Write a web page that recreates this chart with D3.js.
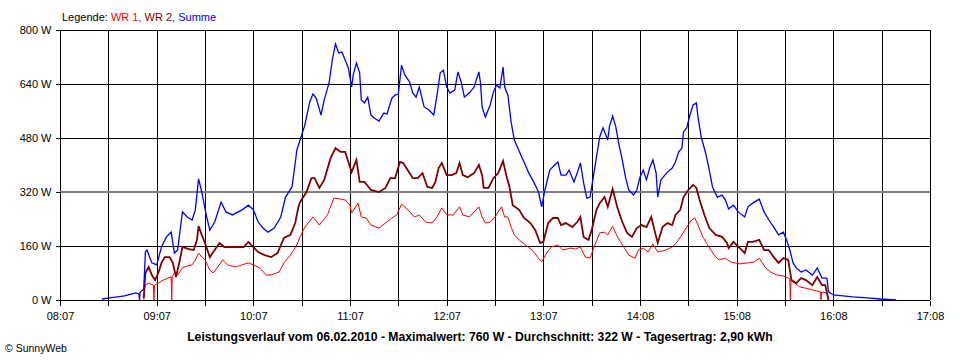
<!DOCTYPE html>
<html>
<head>
<meta charset="utf-8">
<script src="https://cdn.jsdelivr.net/npm/d3@7"></script>
<style>
  html, body { margin: 0; padding: 0; background: #fff; }
  svg { display: block; }
  text { font-family: "Liberation Sans", "DejaVu Sans", sans-serif; }
</style>
</head>
<body>
<svg id="chart" width="960" height="360"></svg>
<script>
// ---------------- DATA ----------------
const xTickLabels = ["08:07","09:07","10:07","11:07","12:07","13:07","14:08","15:08","16:08","17:08"];
const yTicks = [0, 160, 320, 480, 640, 800];
const average = 322;
const legendItems = [["WR 1,", "#ff0000"], ["WR 2,", "#800000"], ["Summe", "#0000ff"]];
const titleText = "Leistungsverlauf vom 06.02.2010 - Maximalwert: 760 W - Durchschnitt: 322 W - Tagesertrag: 2,90 kWh";

// WR 1 (red)  [time, W]
const wr1 = [
 ["08:59",0],["08:59:20",30],["09:00",44],["09:02",50],["09:05",44],["09:05:20",0],["09:05:40",44],
 ["09:08",50],["09:11",59],["09:14",65],["09:16",68],["09:16:20",0],["09:16:40",70],["09:18",80],["09:20",74],
 ["09:23",95],["09:26",101],["09:29",104],["09:31",119],["09:33",139],["09:35",127],["09:37",119],
 ["09:40",89],["09:42",80],["09:45",98],["09:48",119],["09:51",104],["09:56",98],["10:00",104],
 ["10:04",110],["10:07",104],["10:11",95],["10:15",74],["10:18",74],["10:23",83],["10:26",110],
 ["10:30",133],["10:34",163],["10:36",187],["10:39",216],["10:44",246],["10:48",222],["10:53",252],
 ["10:57",302],["11:01",299],["11:04",296],["11:07",281],["11:08",258],["11:12",287],["11:14",246],
 ["11:17",243],["11:20",222],["11:25",213],["11:29",228],["11:33",243],["11:36",252],["11:39",284],
 ["11:43",267],["11:47",246],["11:50",252],["11:54",231],["11:58",228],["12:01",246],["12:04",273],
 ["12:07",252],["12:11",252],["12:15",276],["12:17",252],["12:21",246],["12:27",276],["12:29",246],
 ["12:31",228],["12:34",231],["12:37",246],["12:41",276],["12:43",246],["12:45",246],["12:47",216],
 ["12:49",193],["12:52",178],["12:56",163],["13:00",148],["13:04",124],["13:06",113],["13:09",139],
 ["13:12",157],["13:16",163],["13:19",148],["13:24",154],["13:27",151],["13:30",157],["13:33",127],
 ["13:36",124],["13:39",163],["13:42",199],["13:45",201],["13:47",193],["13:50",219],["13:53",187],
 ["13:57",157],["14:00",133],["14:04",124],["14:06",148],["14:09",154],["14:12",142],["14:15",166],
 ["14:18",142],["14:23",148],["14:27",157],["14:30",172],["14:33",193],["14:36",216],["14:39",237],
 ["14:41",243],["14:43",222],["14:46",187],["14:49",163],["14:53",133],["14:56",119],["15:00",124],
 ["15:03",113],["15:09",107],["15:14",110],["15:18",113],["15:21",124],["15:25",95],["15:28",83],
 ["15:32",74],["15:36",71],["15:39",65],["15:40",62],["15:40:20",0],["15:40:40",60],["15:43",50],
 ["15:46",39],["15:49",36],["15:54",30],["15:59",24],["15:59:20",0],["15:59:40",24],["16:03",21],["16:04",0]
];

// WR 2 (dark red)  [time, W]
const wr2 = [
 ["08:59",6],["09:00",80],["09:02",98],["09:04",74],["09:06",59],["09:08",80],["09:10",110],
 ["09:12",127],["09:15",127],["09:17",110],["09:19",68],["09:21",110],["09:23",157],["09:27",151],
 ["09:30",148],["09:32",178],["09:33",219],["09:35",193],["09:37",169],["09:40",127],["09:43",148],
 ["09:46",169],["09:49",157],["09:53",157],["09:57",157],["10:01",157],["10:04",172],["10:07",157],
 ["10:10",142],["10:14",133],["10:18",127],["10:22",139],["10:26",184],["10:30",193],["10:33",228],
 ["10:35",276],["10:36",290],["10:40",320],["10:43",361],["10:45",361],["10:48",332],["10:51",356],
 ["10:55",421],["10:58",450],["11:01",439],["11:04",439],["11:07",394],["11:08",379],["11:11",415],
 ["11:13",350],["11:16",350],["11:20",326],["11:25",320],["11:29",332],["11:32",361],["11:35",361],
 ["11:38",409],["11:40",406],["11:42",391],["11:46",361],["11:49",361],["11:52",376],["11:55",335],
 ["11:58",332],["12:00",350],["12:02",391],["12:04",406],["12:07",370],["12:10",370],["12:13",376],
 ["12:15",406],["12:17",370],["12:20",364],["12:24",376],["12:27",400],["12:29",370],["12:30",332],
 ["12:33",332],["12:36",361],["12:39",376],["12:42",412],["12:44",370],["12:46",335],["12:48",281],
 ["12:52",267],["12:55",243],["12:59",228],["13:02",207],["13:05",169],["13:07",172],["13:10",228],
 ["13:13",243],["13:16",243],["13:18",222],["13:21",228],["13:25",216],["13:28",231],["13:30",246],
 ["13:32",187],["13:35",178],["13:37",207],["13:40",267],["13:42",287],["13:45",305],["13:47",276],
 ["13:50",329],["13:53",273],["13:56",231],["13:59",199],["14:02",187],["14:05",213],["14:08",222],
 ["14:11",216],["14:14",246],["14:16",207],["14:18",169],["14:21",216],["14:24",228],["14:27",222],
 ["14:29",252],["14:32",267],["14:34",305],["14:37",326],["14:40",341],["14:42",332],["14:44",296],
 ["14:47",252],["14:50",213],["14:54",193],["14:58",187],["15:01",169],["15:02",154],["15:05",172],
 ["15:09",154],["15:12",139],["15:14",172],["15:17",172],["15:21",178],["15:24",148],["15:27",148],
 ["15:30",127],["15:33",110],["15:36",124],["15:39",119],["15:41",59],["15:44",50],["15:47",65],
 ["15:50",59],["15:54",44],["15:57",68],["16:00",44],["16:02",44],["16:04",0]
];

// Summe (blue)  [time, W]
const summe = [
 ["08:33",3],["08:38",6],["08:47",12],["08:54",21],["08:56",18],["08:56:20",0],["08:56:40",22],["08:57",24],["08:59",33],
 ["09:00",142],["09:01",148],["09:04",110],["09:07",104],["09:10",157],["09:13",187],["09:16",201],
 ["09:18",139],["09:20",148],["09:23",261],["09:26",246],["09:29",237],["09:31",267],["09:33",359],
 ["09:35",320],["09:38",246],["09:40",207],["09:43",231],["09:47",290],["09:50",261],["09:54",252],
 ["10:00",267],["10:04",281],["10:07",267],["10:10",231],["10:13",213],["10:16",201],["10:20",213],
 ["10:24",246],["10:27",305],["10:31",335],["10:33",406],["10:34",444],["10:36",474],["10:39",519],
 ["10:42",587],["10:44",610],["10:46",598],["10:49",548],["10:51",593],["10:54",643],["10:56",711],
 ["10:58",759],["11:00",732],["11:02",735],["11:04",711],["11:06",687],["11:08",631],["11:09",667],
 ["11:11",702],["11:13",673],["11:14",593],["11:16",584],["11:18",601],["11:20",548],["11:22",539],
 ["11:25",530],["11:28",554],["11:30",551],["11:33",598],["11:35",607],["11:37",610],["11:39",696],
 ["11:41",667],["11:44",646],["11:46",613],["11:48",601],["11:50",631],["11:53",572],["11:56",563],
 ["11:59",548],["12:01",607],["12:03",673],["12:05",681],["12:07",631],["12:09",613],["12:12",622],
 ["12:14",676],["12:16",646],["12:18",601],["12:21",613],["12:24",631],["12:27",676],["12:28",643],
 ["12:29",572],["12:31",542],["12:34",578],["12:36",616],["12:38",637],["12:40",628],["12:42",690],
 ["12:43",631],["12:45",607],["12:47",527],["12:49",474],["12:52",441],["12:55",409],["12:58",376],
 ["13:01",350],["13:04",320],["13:06",276],["13:08",326],["13:11",385],["13:14",400],["13:16",409],
 ["13:18",370],["13:21",370],["13:23",385],["13:26",350],["13:28",376],["13:30",406],["13:32",347],
 ["13:34",302],["13:36",305],["13:38",364],["13:40",424],["13:42",483],["13:44",510],["13:47",474],
 ["13:48",513],["13:50",545],["13:52",513],["13:54",459],["13:56",415],["13:58",364],["14:00",326],
 ["14:03",311],["14:05",326],["14:07",364],["14:09",385],["14:11",356],["14:13",391],["14:15",415],
 ["14:17",376],["14:18",305],["14:20",356],["14:24",379],["14:27",391],["14:29",409],["14:31",439],
 ["14:33",450],["14:34",498],["14:36",510],["14:38",548],["14:40",578],["14:42",584],["14:43",542],
 ["14:45",483],["14:48",430],["14:50",385],["14:52",335],["14:55",305],["14:58",311],["15:00",296],
 ["15:02",270],["15:05",281],["15:08",261],["15:12",246],["15:14",276],["15:17",287],["15:21",299],
 ["15:24",261],["15:27",237],["15:30",216],["15:33",193],["15:36",201],["15:38",178],["15:40",148],
 ["15:42",110],["15:44",95],["15:47",83],["15:50",89],["15:54",74],["15:57",95],["16:00",65],
 ["16:03",65],["16:04",24],["16:07",15],["16:13",12],["16:19",9],["16:28",6],["16:36",3],["16:46",0]
];

// ---------------- CHART ----------------
const svg = d3.select("#chart");
const W = 960, H = 360;
const m = { left: 60, right: 30, top: 30, bottom: 60 };
const pw = W - m.left - m.right, ph = H - m.top - m.bottom;

const p1 = d3.timeParse("%H:%M:%S"), p2 = d3.timeParse("%H:%M");
const parse = s => p1(s) || p2(s);
const t0 = parse("08:07"), t1 = parse("17:07");

const x = d3.scaleTime().domain([t0, t1]).range([m.left, m.left + pw]);
const y = d3.scaleLinear().domain([0, 800]).range([m.top + ph, m.top]);

const halfHours = d3.range(19).map(i => new Date(t0.getTime() + i * 30 * 60000));

// grid
const g = svg.append("g").attr("shape-rendering", "crispEdges");
g.selectAll("line.v").data(halfHours).join("line")
  .attr("x1", d => Math.round(x(d)) + 0.5).attr("x2", d => Math.round(x(d)) + 0.5)
  .attr("y1", y(800)).attr("y2", y(0)).attr("stroke", "#000");
g.selectAll("line.h").data(yTicks).join("line")
  .attr("x1", m.left).attr("x2", m.left + pw)
  .attr("y1", d => Math.round(y(d)) + 0.5).attr("y2", d => Math.round(y(d)) + 0.5).attr("stroke", "#000");

// average line
svg.append("line").attr("shape-rendering", "crispEdges")
  .attr("x1", m.left).attr("x2", m.left + pw)
  .attr("y1", Math.round(y(average)) + 1).attr("y2", Math.round(y(average)) + 1)
  .attr("stroke", "#808080").attr("stroke-width", 2);

// axes
const xAxis = d3.axisBottom(x).tickValues(halfHours).tickSize(5)
  .tickFormat((d, i) => i % 2 === 0 ? xTickLabels[i / 2] : "");
const xa = svg.append("g").attr("transform", `translate(0,${Math.round(y(0)) + 0.5})`).call(xAxis);
xa.select(".domain").remove();
xa.selectAll(".tick line").attr("stroke", "#000").attr("shape-rendering", "crispEdges");
xa.selectAll(".tick text").attr("font-size", 11).attr("fill", "#000").attr("dy", "1.05em")
  .attr("font-family", "Liberation Sans, sans-serif");

const yAxis = d3.axisLeft(y).tickValues(yTicks).tickSize(5).tickFormat(d => d + " W");
const ya = svg.append("g").attr("transform", `translate(${m.left + 0.5},0)`).call(yAxis);
ya.select(".domain").remove();
ya.selectAll(".tick line").attr("stroke", "#000").attr("shape-rendering", "crispEdges");
ya.selectAll(".tick text").attr("font-size", 11).attr("fill", "#000").attr("x", -9)
  .attr("font-family", "Liberation Sans, sans-serif");

// series
const line = d3.line().x(d => x(parse(d[0]))).y(d => y(d[1]));
svg.append("path").datum(wr1).attr("d", line).attr("fill", "none")
  .attr("stroke", "#ff0000").attr("stroke-width", 1);
svg.append("path").datum(wr2).attr("d", line).attr("fill", "none")
  .attr("stroke", "#800000").attr("stroke-width", 1.8);
svg.append("path").datum(summe).attr("d", line).attr("fill", "none")
  .attr("stroke", "#0000ff").attr("stroke-width", 1.3);

// legend
const lg = svg.append("text").attr("x", 62).attr("y", 21).attr("font-size", 11);
lg.append("tspan").attr("fill", "#000").text("Legende: ");
legendItems.forEach(([t, c], i) => {
  lg.append("tspan").attr("fill", c).text(t + (i < legendItems.length - 1 ? " " : ""));
});

// title
svg.append("text").attr("x", 480).attr("y", 341).attr("text-anchor", "middle")
  .attr("font-size", 12.2).attr("font-weight", "bold").attr("fill", "#000").text(titleText);

// copyright
svg.append("text").attr("x", 5).attr("y", 352).attr("font-size", 10.5).attr("fill", "#000")
  .text("\u00A9 SunnyWeb");
</script>
</body>
</html>
